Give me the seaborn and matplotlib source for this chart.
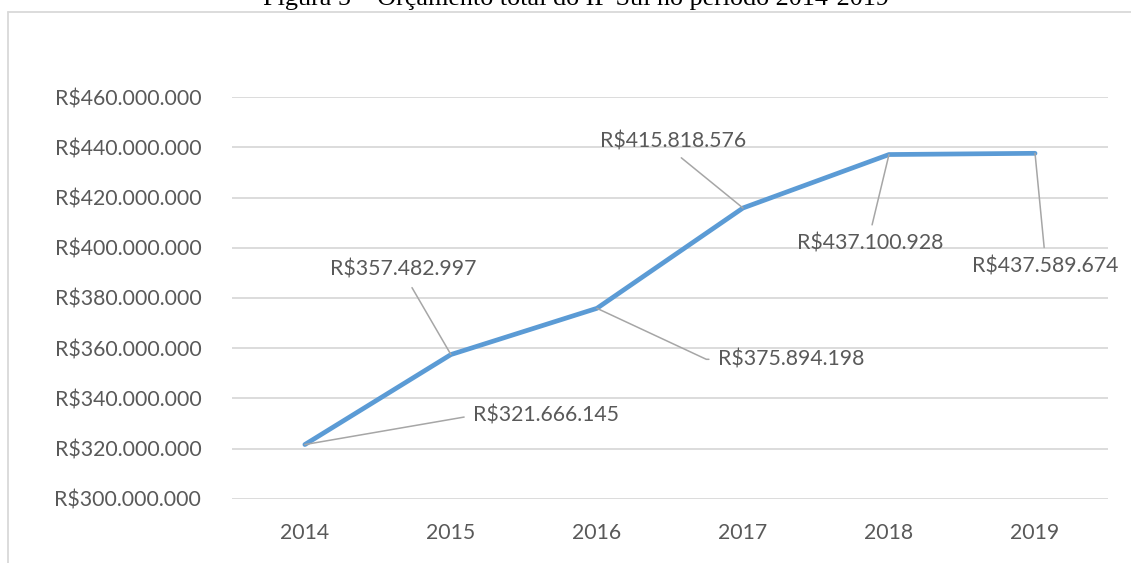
import matplotlib
matplotlib.use("Agg")
import matplotlib.pyplot as plt
from matplotlib.lines import Line2D
import seaborn as sns
import pandas as pd

# Data
anos = ["2014", "2015", "2016", "2017", "2018", "2019"]
orcamento = [321666145, 357482997, 375894198, 415818576, 437100928, 437589674]
rotulos = ["R$321.666.145", "R$357.482.997", "R$375.894.198",
           "R$415.818.576", "R$437.100.928", "R$437.589.674"]
yticks = [300000000 + 20000000 * i for i in range(9)]

df = pd.DataFrame({"ano": anos, "valor": orcamento})

sns.set_theme(style="white")
plt.rcParams["font.family"] = ["Lato", "DejaVu Sans"]

fig = plt.figure(figsize=(11.31, 5.63), dpi=100)
ax = fig.add_axes([0.205, 0.1137, 0.7747, 0.714])

sns.lineplot(data=df, x="ano", y="valor", ax=ax, color="#5b9bd5",
             linewidth=3.4, solid_capstyle="round", solid_joinstyle="round",
             zorder=3)

ax.set_xlim(-0.5, 5.5)
ax.set_ylim(300000000, 460000000)
ax.set_yticks(yticks)
ax.set_yticklabels(["R$" + f"{v:,}".replace(",", ".") for v in yticks])
ax.set_xlabel("")
ax.set_ylabel("")
ax.grid(axis="y", color="#d9d9d9", linewidth=1.3)
ax.grid(axis="x", visible=False)
for s in ax.spines.values():
    s.set_visible(False)
ax.tick_params(axis="y", length=0, pad=22, labelsize=15.3, labelcolor="#595959")
ax.tick_params(axis="x", length=0, pad=17, labelsize=15.3, labelcolor="#595959")

# data labels with leader lines (offsets in pixels)
offsets = [(241, 29), (-48, 85), (194, -51), (-70, 67), (-19, -89), (10, -113)]
relpos = [(0, 0.5), (0.53, 0), (0, 0.5), (0.5, 0), (0.5, 1), (0.5, 1)]
conns = ["arc3", "arc3", "angle,angleA=0,angleB=-25,rad=0", "arc3", "arc3", "arc3"]
for i, (txt, off) in enumerate(zip(rotulos, offsets)):
    ax.annotate(txt, xy=(i, orcamento[i]), xytext=off, textcoords="offset pixels",
                ha="center", va="center", fontsize=15.3, color="#595959",
                arrowprops=dict(arrowstyle="-", color="#a6a6a6", lw=1.1,
                                relpos=relpos[i], shrinkA=4, shrinkB=0,
                                connectionstyle=conns[i]))

# chart frame
fig.add_artist(Line2D([8 / 1131, 8 / 1131], [0, 1 - 12 / 563],
                      transform=fig.transFigure, color="#d9d9d9", lw=1.3))
fig.add_artist(Line2D([8 / 1131, 1], [1 - 12 / 563, 1 - 12 / 563],
                      transform=fig.transFigure, color="#d9d9d9", lw=1.3))

fig.text(576 / 1131, 1 - 5 / 563, "Figura 5 – Orçamento total do IF Sul no período 2014-2019",
         ha="center", va="baseline", fontsize=18.8, family="Liberation Serif",
         color="black")

fig.savefig("out.png", dpi=100)
